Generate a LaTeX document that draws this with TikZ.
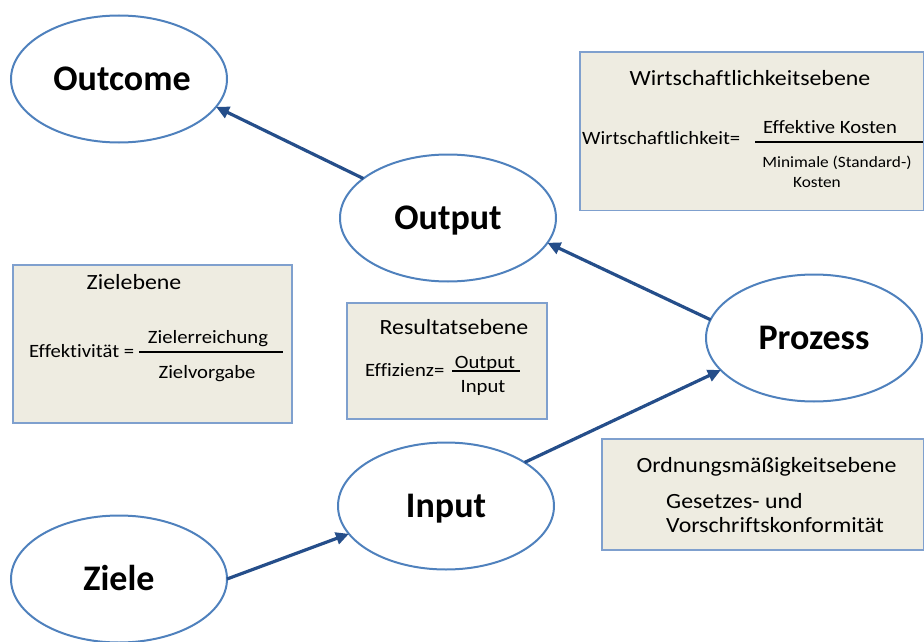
\documentclass[tikz,border=0pt]{standalone}
\usepackage{fontspec}
\setmainfont[Ligatures=CommonOff]{Carlito}
\newfontfamily\boxfont[FakeStretch=1.1,Ligatures=CommonOff]{Carlito}
\usetikzlibrary{shapes.geometric,arrows.meta}
\definecolor{ellborder}{HTML}{4F81BD}
\definecolor{arrowblue}{HTML}{254E8A}
\definecolor{boxfill}{HTML}{EEECE1}
\definecolor{boxborder}{HTML}{7FA0CE}
\tikzset{
  stage/.style={ellipse, draw=ellborder, line width=2pt, fill=white,
    minimum width=216pt, minimum height=127pt, inner sep=0pt, outer sep=0pt,
    font=\fontsize{36}{40}\selectfont\bfseries, text height=23pt, text depth=0pt},
  flow/.style={draw=arrowblue, line width=3.2pt,
    -{Triangle[length=13pt,width=12pt]}},
  levelbox/.style={draw=boxborder, line width=1.3pt, fill=boxfill},
  head/.style={anchor=base, inner sep=0pt, font=\boxfont\fontsize{21.7}{25}\selectfont},
  formula/.style={anchor=base, inner sep=0pt, font=\boxfont\fontsize{18.8}{22}\selectfont},
  small/.style={anchor=base, inner sep=0pt, font=\boxfont\fontsize{15.7}{19}\selectfont},
  fracline/.style={line width=1.8pt}
}
\begin{document}
\begin{tikzpicture}[x=1pt,y=-1pt]
\useasboundingbox (0,0) rectangle (924,642);

% level boxes
\draw[levelbox] (580,52) rectangle (923.3,210.5);
\draw[levelbox] (13,265) rectangle (292,423);
\draw[levelbox] (347,303) rectangle (547,419);
\draw[levelbox] (602,439) rectangle (923.3,550);

% Wirtschaftlichkeitsebene
\node[head] (wh) at (750,85) {Wirtschaftlichkeitsebene};
\node[formula, anchor=base west] (wl) at (582,144) {Wirtschaftlichkeit=};
\node[formula] (wn) at (830,133) {Effektive Kosten};
\draw[fracline] (755,142) -- (923,142);
\node[small] (wd1) at (837,167) {Minimale (Standard-)};
\node[small] (wd2) at (817,187) {Kosten};

% Zielebene
\node[head] (zh) at (134,289) {Zielebene};
\node[formula, anchor=base west] (zl) at (29,357) {Effektivität =};
\node[formula] (zn) at (208,343) {Zielerreichung};
\draw[fracline] (139,352) -- (283,352);
\node[formula] (zd) at (207,378) {Zielvorgabe};

% Resultatsebene
\node[head] (rh) at (454,334) {Resultatsebene};
\node[formula, anchor=base west] (rl) at (365,376) {Effizienz=};
\node[formula] (rn) at (485,368) {Output};
\draw[fracline] (452,371) -- (520,371);
\node[formula] (rd) at (483,392) {Input};

% Ordnungsmäßigkeitsebene
\node[head] (oh) at (766.5,472) {Ordnungsmäßigkeitsebene};
\node[head, anchor=base west] (o1) at (666,508) {Gesetzes- und};
\node[head, anchor=base west] (o2) at (666,532) {Vorschriftskonformität};

% stages
\node[stage] (outcome) at (119,79) {\hspace*{6pt}Outcome};
\node[stage] (output) at (448,218) {Output};
\node[stage] (prozess) at (814,338) {Prozess};
\node[stage] (input) at (446,506) {Input};
\node[stage] (ziele) at (119,579) {Ziele};

% flow
\draw[flow] (ziele.east) -- (input.196);
\draw[flow] (input.29) -- (prozess.199);
\draw[flow] (prozess.170) -- (output.-14);
\draw[flow] (output.155) -- (outcome.-16);
\end{tikzpicture}
\end{document}
